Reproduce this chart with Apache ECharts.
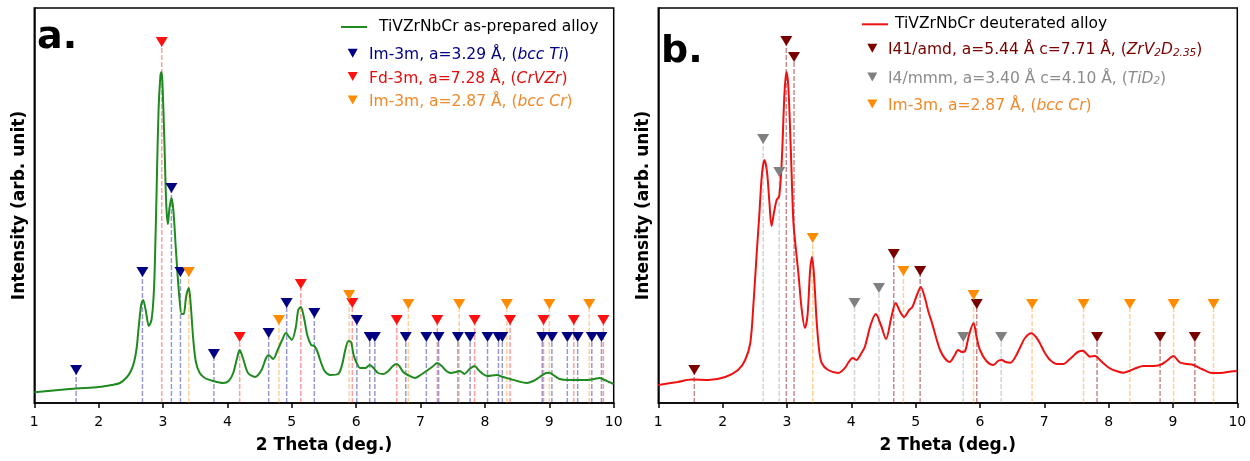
<!DOCTYPE html>
<html>
<head>
<meta charset="utf-8">
<script src="https://cdn.jsdelivr.net/npm/echarts@6/dist/echarts.min.js"></script>
<style>html,body{margin:0;padding:0;background:#fff}#c{width:1250px;height:461px}</style>
</head>
<body>
<div id="c"></div>
<script>
// x ticks
const xTicks = [1, 2, 3, 4, 5, 6, 7, 8, 9, 10];

// Panel a: as-prepared alloy, [2theta, intensity]
const curveA = [[1.0,10.7],[1.3,12.5],[1.65,14.5],[2.0,16],[2.2,18],[2.33,20],[2.44,26],[2.5,32],[2.55,41],[2.59,55],[2.62,75],[2.66,98],[2.69,103],[2.73,93],[2.78,77],[2.82,83],[2.85,103],[2.87,133],[2.90,213],[2.93,293],[2.96,328],[2.975,331],[2.99,321],[3.02,263],[3.05,198],[3.075,179],[3.10,195],[3.13,205],[3.16,193],[3.20,153],[3.25,108],[3.29,89],[3.32,89],[3.36,107],[3.40,115],[3.43,98],[3.47,63],[3.51,41],[3.57,30],[3.65,25],[3.78,22],[3.93,20],[4.02,22],[4.09,30],[4.15,45],[4.19,53],[4.24,45],[4.32,30],[4.43,26],[4.53,33],[4.60,45],[4.64,48],[4.71,44],[4.78,53],[4.85,63],[4.91,70],[4.96,66],[5.0,63],[5.06,75],[5.10,93],[5.14,96],[5.19,85],[5.24,68],[5.30,58],[5.35,57],[5.40,51],[5.44,43],[5.51,32],[5.60,28],[5.72,29],[5.78,38],[5.83,53],[5.88,62],[5.92,61],[5.96,48],[6.00,41],[6.06,35],[6.14,35],[6.21,38],[6.27,35],[6.34,30],[6.42,29],[6.50,32],[6.57,37],[6.63,39],[6.68,36],[6.73,31],[6.80,28],[6.91,25],[7.00,28],[7.09,32],[7.18,36],[7.26,40],[7.33,37],[7.40,32],[7.47,30],[7.55,31],[7.61,32],[7.68,29],[7.76,34],[7.84,37],[7.90,33],[7.97,29],[8.04,27],[8.18,28],[8.28,26],[8.39,24],[8.50,22],[8.65,20],[8.75,22],[8.85,26],[8.95,30],[9.0,30.3],[9.06,28],[9.16,24],[9.30,23],[9.47,23],[9.60,23],[9.70,24],[9.78,25],[9.86,23],[9.93,21],[10.0,19]];

// Panel a reflections, [2theta, marker height]
const bccTi = [[1.65,33],[2.68,131],[3.13,215],[3.27,131],[3.79,49],[4.64,70],[4.92,100],[5.35,90],[6.01,83],[6.21,66],[6.29,66],[6.77,66],[7.09,66],[7.28,66],[7.58,66],[7.77,66],[8.04,66],[8.21,66],[8.27,66],[8.89,66],[9.04,66],[9.28,66],[9.44,66],[9.66,66],[9.81,66]];
const crvzr = [[2.98,361],[4.19,66],[5.14,119],[5.94,100],[6.63,83],[7.26,83],[7.84,83],[8.39,83],[8.91,83],[9.38,83],[9.84,83]];
const bccCrA = [[3.40,131],[4.80,83],[5.89,108],[6.81,99],[7.60,99],[8.34,99],[9.00,99],[9.62,99]];

// Panel b: deuterated alloy
const curveB = [[1.0,18],[1.3,21],[1.52,23.5],[1.78,23],[2.04,26],[2.24,33],[2.35,43],[2.43,60],[2.48,100],[2.53,150],[2.57,188],[2.61,228],[2.65,243],[2.69,231],[2.73,198],[2.76,177],[2.80,191],[2.84,203],[2.88,207],[2.92,243],[2.96,308],[2.99,331],[3.02,318],[3.06,253],[3.10,181],[3.14,153],[3.18,128],[3.23,93],[3.28,75],[3.32,88],[3.36,133],[3.39,146],[3.42,128],[3.46,83],[3.50,53],[3.54,40],[3.64,33],[3.80,30],[3.90,35],[3.95,40],[4.02,45],[4.08,43],[4.15,49],[4.21,56],[4.30,78],[4.38,89],[4.46,78],[4.54,64],[4.62,85],[4.69,100],[4.76,91],[4.82,86],[4.90,93],[4.95,96],[5.02,108],[5.08,116],[5.14,106],[5.20,91],[5.25,81],[5.32,65],[5.38,53],[5.45,45],[5.53,41],[5.60,47],[5.66,53],[5.72,51],[5.77,52],[5.83,68],[5.90,80],[5.95,65],[6.00,53],[6.10,42],[6.21,38],[6.28,42],[6.34,43],[6.40,41],[6.47,40.3],[6.55,46],[6.62,55],[6.70,65],[6.80,69.7],[6.87,66],[6.93,60],[7.00,51],[7.09,43],[7.20,39],[7.30,39],[7.38,43],[7.45,47],[7.52,51],[7.60,52.3],[7.66,49],[7.71,46.3],[7.79,47],[7.88,42],[7.95,38],[8.02,34.7],[8.12,32],[8.23,30.3],[8.33,32.3],[8.43,35],[8.54,37],[8.68,37],[8.80,38],[8.90,42],[9.01,47],[9.07,43],[9.11,40.3],[9.22,39],[9.32,38],[9.45,34],[9.58,30.3],[9.70,30],[9.78,30.3],[9.90,31.5],[10.0,32]];

// Panel b reflections
const zrv2d = [[1.56,33],[2.99,362],[3.11,346],[4.66,149],[5.07,132],[5.95,99],[7.82,66],[8.80,66],[9.34,66]];
const tid2 = [[2.63,264],[2.88,231],[4.05,100],[4.43,115],[5.74,66],[6.33,66]];
const bccCrB = [[3.40,165],[4.81,132],[5.90,108],[6.81,99],[7.61,99],[8.33,99],[9.01,99],[9.63,99]];

const FONT = 'DejaVu Sans';
const C = {green:'#1f8a1f', navy:'#000080', red:'#ff1010', orange:'#ff8c00', dred:'#7a0000', gray:'#808080', redLine:'#ee1111'};

function phase(gi, data, color, op) {
  return [
    {type:'custom', xAxisIndex:gi, yAxisIndex:gi, z:1, silent:true, data:data,
      renderItem:function(params, api){
        const p0 = api.coord([api.value(0), 0]);
        const p1 = api.coord([api.value(0), api.value(1)]);
        return {type:'line', shape:{x1:p0[0], y1:p0[1], x2:p1[0], y2:p1[1]},
          style:{stroke:color, lineWidth:1.5, lineDash:[5,2], opacity:op}};
      }},
    {type:'scatter', xAxisIndex:gi, yAxisIndex:gi, z:5, silent:true, data:data,
      symbol:'triangle', symbolRotate:180, symbolSize:[12,10],
      itemStyle:{color:color, opacity:1}}
  ];
}

function xAxis(gi){
  return {type:'value', gridIndex:gi, min:1, max:10, interval:1,
    name:'2 Theta (deg.)', nameLocation:'middle', nameGap:34,
    nameTextStyle:{fontFamily:FONT, fontWeight:'bold', fontSize:17, color:'#000'},
    axisLine:{show:true, lineStyle:{color:'#000', width:1.5}},
    axisTick:{show:true, length:5, lineStyle:{color:'#000', width:1.5}},
    axisLabel:{fontFamily:FONT, fontSize:14, color:'#000', margin:12,
      formatter:function(v){ return xTicks.indexOf(v) >= 0 ? String(v) : ''; }},
    splitLine:{show:false}};
}
function yAxis(gi){
  return {type:'value', gridIndex:gi, min:0, max:395,
    name:'Intensity (arb. unit)', nameLocation:'middle', nameGap:6,
    nameTextStyle:{fontFamily:FONT, fontWeight:'bold', fontSize:17, color:'#000'},
    axisLine:{show:true, lineStyle:{color:'#000', width:1.5}},
    axisTick:{show:false}, axisLabel:{show:false}, splitLine:{show:false}};
}

function tri(cx, cy, color){
  return {type:'polygon', silent:true, shape:{points:[[cx-5,cy-4.5],[cx+5,cy-4.5],[cx,cy+4.5]]}, style:{fill:color}};
}
function txt(x, y, text, color, rich){
  return {type:'text', silent:true, x:x, y:y, style:{text:text, fill:color, fontFamily:FONT, fontSize:15.5,
    verticalAlign:'middle', align:'left', rich:rich || {}}};
}
function richFor(color){
  return {
    n:{fill:color, color:color, fontFamily:FONT, fontSize:15.5, lineHeight:20, verticalAlign:'bottom'},
    i:{fill:color, color:color, fontFamily:FONT, fontSize:15.5, fontStyle:'italic', lineHeight:20, verticalAlign:'bottom'},
    s:{fill:color, color:color, fontFamily:FONT, fontSize:10.5, fontStyle:'italic', lineHeight:14, verticalAlign:'bottom'}
  };
}

const chart = echarts.init(document.getElementById('c'), null, {renderer:'canvas'});
chart.setOption({
  animation:false,
  backgroundColor:'#fff',
  grid:[
    {left:34.3, top:8, width:579.4, height:395, show:true, borderColor:'#000', borderWidth:1.5, backgroundColor:'transparent'},
    {left:658.3, top:8, width:579, height:395, show:true, borderColor:'#000', borderWidth:1.5, backgroundColor:'transparent'}
  ],
  xAxis:[xAxis(0), xAxis(1)],
  yAxis:[yAxis(0), yAxis(1)],
  series:[].concat(
    phase(0, bccTi, C.navy, 0.4),
    phase(0, crvzr, C.red, 0.4),
    phase(0, bccCrA, C.orange, 0.4),
    [{type:'line', xAxisIndex:0, yAxisIndex:0, z:3, data:curveA, showSymbol:false, smooth:0.3,
      lineStyle:{color:C.green, width:2}, silent:true}],
    phase(1, zrv2d, C.dred, 0.45),
    phase(1, tid2, C.gray, 0.35),
    phase(1, bccCrB, C.orange, 0.4),
    [{type:'line', xAxisIndex:1, yAxisIndex:1, z:3, data:curveB, showSymbol:false, smooth:0.3,
      lineStyle:{color:C.redLine, width:2}, silent:true}]
  ),
  graphic:[
    {type:'text', silent:true, x:37, y:57, style:{text:'a.', fontFamily:FONT, fontWeight:'bold', fontSize:38, fill:'#000', verticalAlign:'bottom'}},
    {type:'text', silent:true, x:661, y:71, style:{text:'b.', fontFamily:FONT, fontWeight:'bold', fontSize:38, fill:'#000', verticalAlign:'bottom'}},
    // legend a
    {type:'line', silent:true, shape:{x1:341, y1:27, x2:367, y2:27}, style:{stroke:C.green, lineWidth:2}},
    txt(379, 27, 'TiVZrNbCr as-prepared alloy', '#000'),
    tri(352.7, 53.3, C.navy),
    txt(369, 53.3, '{n|Im-3m, a=3.29 Å, (}{i|bcc Ti}{n|)}', C.navy, richFor(C.navy)),
    tri(352.7, 76.5, C.red),
    txt(369, 76.5, '{n|Fd-3m, a=7.28 Å, (}{i|CrVZr}{n|)}', '#e01010', richFor('#e01010')),
    tri(352.7, 100, C.orange),
    txt(369, 100, '{n|Im-3m, a=2.87 Å, (}{i|bcc Cr}{n|)}', '#f0892a', richFor('#f0892a')),
    // legend b
    {type:'line', silent:true, shape:{x1:862, y1:24.3, x2:888, y2:24.3}, style:{stroke:C.redLine, lineWidth:2}},
    txt(895, 24.3, 'TiVZrNbCr deuterated alloy', '#000'),
    tri(872.3, 48.3, C.dred),
    txt(888, 48.3, '{n|I41/amd, a=5.44 Å c=7.71 Å, (}{i|ZrV}{s|2}{i|D}{s|2.35}{n|)}', C.dred, richFor(C.dred)),
    tri(872.3, 77, C.gray),
    txt(888, 77, '{n|I4/mmm, a=3.40 Å c=4.10 Å, (}{i|TiD}{s|2}{n|)}', '#8c8c8c', richFor('#8c8c8c')),
    tri(872.3, 104, C.orange),
    txt(888, 104, '{n|Im-3m, a=2.87 Å, (}{i|bcc Cr}{n|)}', '#f0892a', richFor('#f0892a'))
  ]
});
</script>
</body>
</html>
